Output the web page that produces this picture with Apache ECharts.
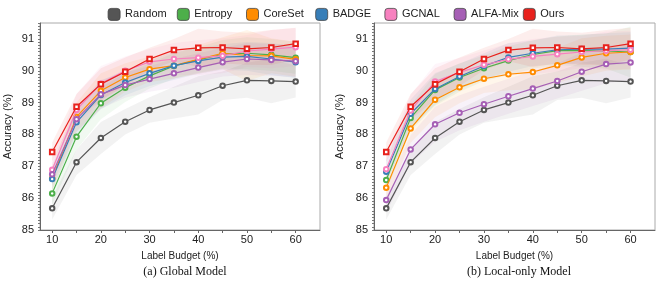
<!DOCTYPE html>
<html><head><meta charset="utf-8">
<script src="https://cdn.jsdelivr.net/npm/echarts@6/dist/echarts.min.js"></script>
<style>html,body{margin:0;padding:0;background:#fff}#c{width:664px;height:283px}</style>
</head><body><div id="c"></div>
<script>
const budgets = [10,15,20,25,30,35,40,45,50,55,60];
const xTickLabels = [10,20,30,40,50,60];
const yTickLabels = [85,86,87,88,89,90,91];
const methods = ['Random','Entropy','CoreSet','BADGE','GCNAL','ALFA-Mix','Ours'];
const colors = ['#555555','#4daf4a','#ff8c00','#377eb8','#f781bf','#a65fb5','#e8211c'];

// (a) Global Model
const random_g  = [85.68,87.13,87.89,88.40,88.77,89.00,89.23,89.53,89.70,89.68,89.66];
const entropy_g = [86.15,87.93,88.98,89.47,89.84,90.15,90.34,90.52,90.55,90.50,90.41];
const coreset_g = [86.62,88.55,89.37,89.79,90.05,90.16,90.36,90.55,90.48,90.47,90.36];
const badge_g   = [86.60,88.38,89.24,89.63,89.92,90.16,90.31,90.43,90.45,90.37,90.27];
const gcnal_g   = [86.89,88.77,89.60,90.00,90.28,90.37,90.41,90.47,90.62,90.68,90.74];
const alfa_g    = [86.75,88.48,89.26,89.55,89.74,89.92,90.10,90.27,90.37,90.34,90.30];
const ours_g    = [87.45,88.87,89.58,89.97,90.37,90.65,90.72,90.73,90.69,90.73,90.85];

// (b) Local-only Model
const random_l  = [85.68,87.13,87.89,88.40,88.77,89.00,89.23,89.53,89.70,89.68,89.66];
const entropy_l = [86.57,88.52,89.40,89.79,90.08,90.32,90.51,90.63,90.63,90.62,90.59];
const coreset_l = [86.33,88.19,89.09,89.48,89.75,89.89,89.96,90.17,90.42,90.55,90.59];
const badge_l   = [86.83,88.65,89.43,89.82,90.15,90.42,90.55,90.66,90.68,90.68,90.71];
const gcnal_l   = [86.91,88.75,89.66,89.95,90.19,90.36,90.45,90.52,90.59,90.63,90.66];
const alfa_l    = [85.94,87.53,88.32,88.68,88.95,89.20,89.44,89.68,89.97,90.21,90.26];
const ours_l    = [87.45,88.87,89.58,89.97,90.37,90.65,90.72,90.73,90.69,90.73,90.85];

// spread (half-width of shaded band)
const randomSd_g  = [0.35,0.40,0.50,0.40,0.40,0.50,0.60,0.45,0.55,0.70,0.50];
const entropySd_g = [0.35,0.40,0.50,0.45,0.40,0.40,0.40,0.45,0.50,0.50,0.50];
const coresetSd_g = [0.40,0.45,0.55,0.45,0.40,0.40,0.45,0.50,0.80,0.55,0.55];
const badgeSd_g   = [0.35,0.40,0.45,0.40,0.40,0.45,0.40,0.40,0.45,0.50,0.50];
const gcnalSd_g   = [0.40,0.50,0.55,0.45,0.40,0.50,0.55,0.55,0.50,0.60,0.60];
const alfaSd_g    = [0.35,0.40,0.45,0.40,0.40,0.45,0.45,0.45,0.50,0.50,0.50];
const oursSd_g    = [0.30,0.40,0.50,0.45,0.35,0.35,0.60,0.50,0.50,0.55,0.50];

const randomSd_l  = [0.35,0.40,0.50,0.40,0.40,0.50,0.60,0.45,0.55,0.70,0.50];
const entropySd_l = [0.35,0.40,0.50,0.45,0.40,0.45,0.45,0.45,0.50,0.55,0.80];
const coresetSd_l = [0.40,0.45,0.55,0.50,0.45,0.50,0.55,0.55,0.60,0.55,0.55];
const badgeSd_l   = [0.35,0.45,0.50,0.40,0.40,0.45,0.40,0.45,0.45,0.50,0.50];
const gcnalSd_l   = [0.40,0.50,0.55,0.45,0.45,0.50,0.55,0.55,0.50,0.60,0.60];
const alfaSd_l    = [0.40,0.45,0.55,0.55,0.55,0.55,0.55,0.55,0.60,0.60,0.55];
const oursSd_l    = [0.30,0.40,0.50,0.45,0.35,0.35,0.60,0.50,0.50,0.55,0.50];

const means = [
  [random_g, entropy_g, coreset_g, badge_g, gcnal_g, alfa_g, ours_g],
  [random_l, entropy_l, coreset_l, badge_l, gcnal_l, alfa_l, ours_l]
];
const sds = [
  [randomSd_g, entropySd_g, coresetSd_g, badgeSd_g, gcnalSd_g, alfaSd_g, oursSd_g],
  [randomSd_l, entropySd_l, coresetSd_l, badgeSd_l, gcnalSd_l, alfaSd_l, oursSd_l]
];

function rgba(hex, a){
  const n = parseInt(hex.slice(1),16);
  return 'rgba('+((n>>16)&255)+','+((n>>8)&255)+','+(n&255)+','+a+')';
}

const series = [];
for (let g=0; g<2; g++){
  for (let i=0; i<methods.length; i++){
    const m = means[g][i], s = sds[g][i];
    const rows = budgets.map((x,k)=>[x, m[k]-s[k], m[k]+s[k]]);
    series.push({
      type:'custom', name:'band'+g+i, xAxisIndex:g, yAxisIndex:g,
      silent:true, z:1, clip:true,
      encode:{x:0, y:[1,2]},
      data: [rows[0]],
      renderItem: function(params, api){
        const up = rows.map(r=>api.coord([r[0], r[2]]));
        const lo = rows.map(r=>api.coord([r[0], r[1]])).reverse();
        return {
          type:'polygon',
          shape:{points: up.concat(lo)},
          style:{fill: rgba(colors[i], i===0 ? 0.08 : 0.08), stroke:'none'}
        };
      }
    });
  }
}
for (let g=0; g<2; g++){
  for (let i=0; i<methods.length; i++){
    series.push({
      type:'line', name:methods[i], xAxisIndex:g, yAxisIndex:g,
      data: budgets.map((x,k)=>[x, means[g][i][k]]),
      symbol: i===6 ? 'emptyRect' : 'emptyCircle',
      symbolSize: 4.5,
      color: colors[i],
      lineStyle:{color:colors[i], width:1.2},
      itemStyle:{color:colors[i], borderWidth:1.1},
      z: 3+i
    });
  }
}

const minorY = [];
for (let v=850; v<=915; v++) minorY.push(v/10);
const xTickPos = budgets.slice();

const font = 'Liberation Sans, Arial, sans-serif';
function xAxis(g){
  return {
    type:'value', gridIndex:g, min:7.5, max:65,
    name:'Label Budget (%)', nameLocation:'middle', nameGap:21,
    nameTextStyle:{fontSize:10, color:'#222', fontFamily:font},
    axisLine:{lineStyle:{color:'#666', width:1}},
    axisTick:{customValues:xTickPos, length:3, inside:false, lineStyle:{color:'#666'}},
    axisLabel:{customValues:xTickLabels, fontSize:11, color:'#222', margin:4, fontFamily:font},
    splitLine:{show:false}
  };
}
function yAxis(g){
  return {
    type:'value', gridIndex:g, min:85, max:91.5,
    name:'Accuracy (%)', nameLocation:'middle', nameGap:g===0?27:29, nameRotate:90,
    nameTextStyle:{fontSize:11, color:'#222', fontFamily:font},
    axisLine:{show:true, lineStyle:{color:'#666', width:1}},
    axisTick:{customValues:minorY, length:2, lineStyle:{color:'#777'}},
    axisLabel:{customValues:yTickLabels, fontSize:11, color:'#222', margin:6, fontFamily:font},
    splitLine:{show:false}
  };
}

const legends = methods.map((m,i)=>({
  top:3, left:102.7 + 69.2*i, itemWidth:12, itemHeight:12, itemGap:0,
  textStyle:{fontSize:11, color:'#222', fontFamily:font},
  data:[{name:m, icon:'roundRect',
    itemStyle:{color:colors[i], borderColor:'#444', borderWidth:0.8}}]
}));

const option = {
  animation:false,
  backgroundColor:'#fff',
  legend: legends,
  grid:[
    {left:40, top:23, width:280, height:207, show:true, borderColor:'#aaa', borderWidth:1},
    {left:374, top:23, width:281, height:207, show:true, borderColor:'#aaa', borderWidth:1}
  ],
  xAxis:[xAxis(0), xAxis(1)],
  yAxis:[yAxis(0), yAxis(1)],
  title:[
    {text:'(a) Global Model', left:180, top:261, textAlign:'center',
     textStyle:{fontSize:12, fontWeight:'normal', color:'#111', fontFamily:'Liberation Serif, Times New Roman, serif'}},
    {text:'(b) Local-only Model', left:514, top:261, textAlign:'center',
     textStyle:{fontSize:12, fontWeight:'normal', color:'#111', fontFamily:'Liberation Serif, Times New Roman, serif'}}
  ],
  series: series
};
const chart = echarts.init(document.getElementById('c'), null, {renderer:'canvas'});
chart.setOption(option);
</script></body></html>
